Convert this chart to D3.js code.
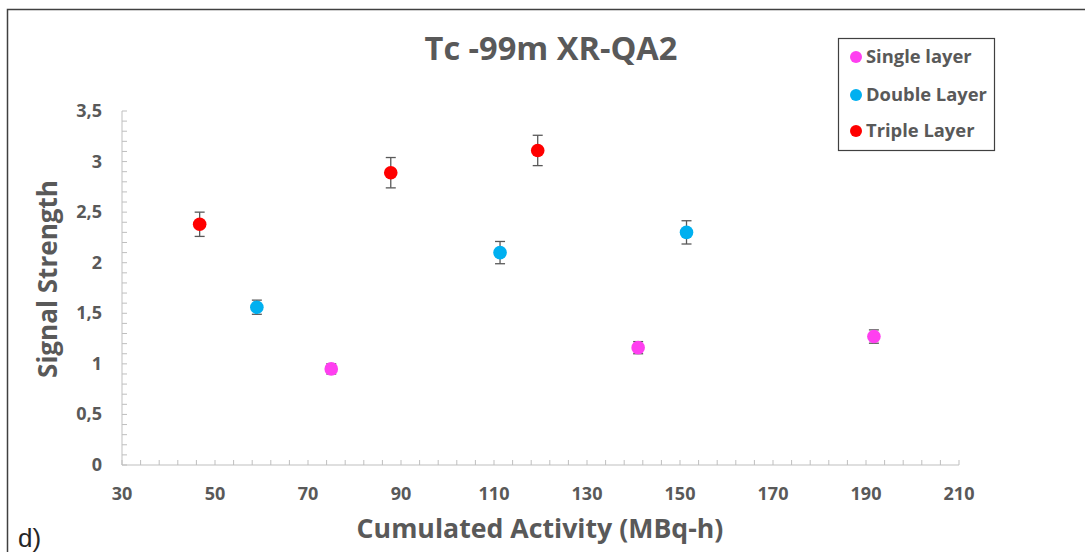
<!DOCTYPE html>
<html>
<head>
<meta charset="utf-8">
<script src="https://cdnjs.cloudflare.com/ajax/libs/d3/7.8.5/d3.min.js"></script>
<style>
  body { margin: 0; background: #fff; }
  svg { display: block; }
  text { font-family: "Open Sans", Lato, sans-serif; fill: #595959; }
</style>
</head>
<body>
<svg id="chart"></svg>
<script>
// series
var singleX = [75, 141, 191.7];
var singleY = [0.95, 1.16, 1.27];
var singleErr = [0.05, 0.06, 0.066];

var doubleX = [59, 111.3, 151.4];
var doubleY = [1.56, 2.10, 2.30];
var doubleErr = [0.07, 0.11, 0.115];

var tripleX = [46.7, 87.8, 119.4];
var tripleY = [2.38, 2.89, 3.11];
var tripleErr = [0.12, 0.15, 0.15];

var seriesNames = ["Single layer", "Double Layer", "Triple Layer"];
var seriesColors = ["#ff3ff0", "#00b0f0", "#ff0000"];

var xTicks = [30, 50, 70, 90, 110, 130, 150, 170, 190, 210];
var yTicks = [0, 0.5, 1, 1.5, 2, 2.5, 3, 3.5];

var W = 1085, H = 552;
const margin = {top: 111, right: W - 959, bottom: H - 465, left: 122},
    width = W - margin.left - margin.right,
    height = H - margin.top - margin.bottom;

const svg1 = d3.select("#chart").attr("width", W).attr("height", H);

// scale a text's font-size so it spans the wanted width (Calibri is not installed)
function fitWidth(sel, target) {
    sel.each(function() {
        var fs = parseFloat(this.style.fontSize);
        var w = this.getComputedTextLength();
        if (w > 0) d3.select(this).style("font-size", (fs * target / w) + "px");
    });
}

// outer frame of the figure
svg1.append("rect")
    .attr("x", 7.5).attr("y", 9.5)
    .attr("width", W + 10).attr("height", H + 10)
    .attr("fill", "none").attr("stroke", "#404040").attr("stroke-width", 1.5);

var svg = svg1.append("g").attr("transform", `translate(${margin.left},${margin.top})`);

const x = d3.scaleLinear().domain([30, 210]).range([0, width]);
const y = d3.scaleLinear().domain([0, 3.5]).range([height, 0]);
var fmt = d => String(d).replace(".", ",");

/** minor ticks, pointing inward */
var xMinor = d3.range(30, 210.01, 4);
var yMinor = d3.range(0, 3.501, 0.1);

svg.selectAll(".xminor").data(xMinor).join("line")
    .attr("x1", d => x(d)).attr("x2", d => x(d))
    .attr("y1", height).attr("y2", height - 5)
    .attr("stroke", "#bfbfbf");
svg.selectAll(".yminor").data(yMinor).join("line")
    .attr("x1", 0).attr("x2", 5)
    .attr("y1", d => y(d)).attr("y2", d => y(d))
    .attr("stroke", "#bfbfbf");

svg.append("line").attr("x1", 0).attr("x2", width).attr("y1", height).attr("y2", height)
    .attr("stroke", "#bfbfbf");
svg.append("line").attr("x1", 0).attr("x2", 0).attr("y1", 0).attr("y2", height)
    .attr("stroke", "#bfbfbf");

/** tick labels */
svg.selectAll(".xlab").data(xTicks).join("text")
    .attr("x", d => x(d)).attr("y", height + 35)
    .attr("text-anchor", "middle")
    .style("font-size", "18px").style("font-weight", "bold")
    .text(d => d);
svg.selectAll(".ylab").data(yTicks).join("text")
    .attr("x", -20).attr("y", d => y(d) + 6)
    .attr("text-anchor", "end")
    .style("font-size", "18px").style("font-weight", "bold")
    .text(fmt);

/** error bars + points */
var groups = [
    {x: singleX, y: singleY, e: singleErr},
    {x: doubleX, y: doubleY, e: doubleErr},
    {x: tripleX, y: tripleY, e: tripleErr}
];
groups.forEach(function(g, i) {
    var pts = g.x.map((v, j) => ({x: v, y: g.y[j], e: g.e[j]}));
    var eb = svg.append("g").attr("stroke", "#595959").attr("stroke-width", 1.3);
    pts.forEach(function(p) {
        eb.append("line").attr("x1", x(p.x)).attr("x2", x(p.x)).attr("y1", y(p.y - p.e)).attr("y2", y(p.y + p.e));
        eb.append("line").attr("x1", x(p.x) - 5).attr("x2", x(p.x) + 5).attr("y1", y(p.y - p.e)).attr("y2", y(p.y - p.e));
        eb.append("line").attr("x1", x(p.x) - 5).attr("x2", x(p.x) + 5).attr("y1", y(p.y + p.e)).attr("y2", y(p.y + p.e));
    });
    svg.selectAll(".pt" + i).data(pts).join("circle")
        .attr("cx", d => x(d.x)).attr("cy", d => y(d.y))
        .attr("r", 6.8).attr("fill", seriesColors[i]);
});

/** titles */
var t1 = svg1.append("text").attr("x", 551).attr("y", 60).attr("text-anchor", "middle")
    .style("font-size", "28px").style("font-weight", "bold").text("Tc -99m XR-QA2");
fitWidth(t1, 253);
var t2 = svg1.append("text").attr("x", 540).attr("y", 538).attr("text-anchor", "middle")
    .style("font-size", "25px").style("font-weight", "bold").text("Cumulated Activity (MBq-h)");
fitWidth(t2, 367);
var t3 = svg1.append("text").attr("transform", "translate(57,279) rotate(-90)").attr("text-anchor", "middle")
    .style("font-size", "25px").style("font-weight", "bold").text("Signal Strength");
fitWidth(t3, 198);
svg1.append("text").attr("x", 18).attr("y", 547)
    .style("font-family", "'Liberation Sans', Arial, sans-serif").style("fill", "#262626")
    .style("font-size", "26px").text("d)");

/** legend */
var lg = svg1.append("g");
lg.append("rect").attr("x", 838.5).attr("y", 38.5).attr("width", 156).attr("height", 112)
    .attr("fill", "#fff").attr("stroke", "#404040").attr("stroke-width", 1.2);
var legY = [57, 95, 131];
lg.selectAll(".lgc").data(seriesNames).join("circle")
    .attr("cx", 856).attr("cy", (d, i) => legY[i]).attr("r", 6)
    .attr("fill", (d, i) => seriesColors[i]);
var lt = lg.selectAll(".lgt").data(seriesNames).join("text")
    .attr("x", 866).attr("y", (d, i) => legY[i] + 6)
    .style("font-size", "18px").style("font-weight", "bold")
    .text(d => d);
fitWidth(lt.filter((d, i) => i === 1), 121);
lt.style("font-size", lt.filter((d, i) => i === 1).style("font-size"));
</script>
</body>
</html>
